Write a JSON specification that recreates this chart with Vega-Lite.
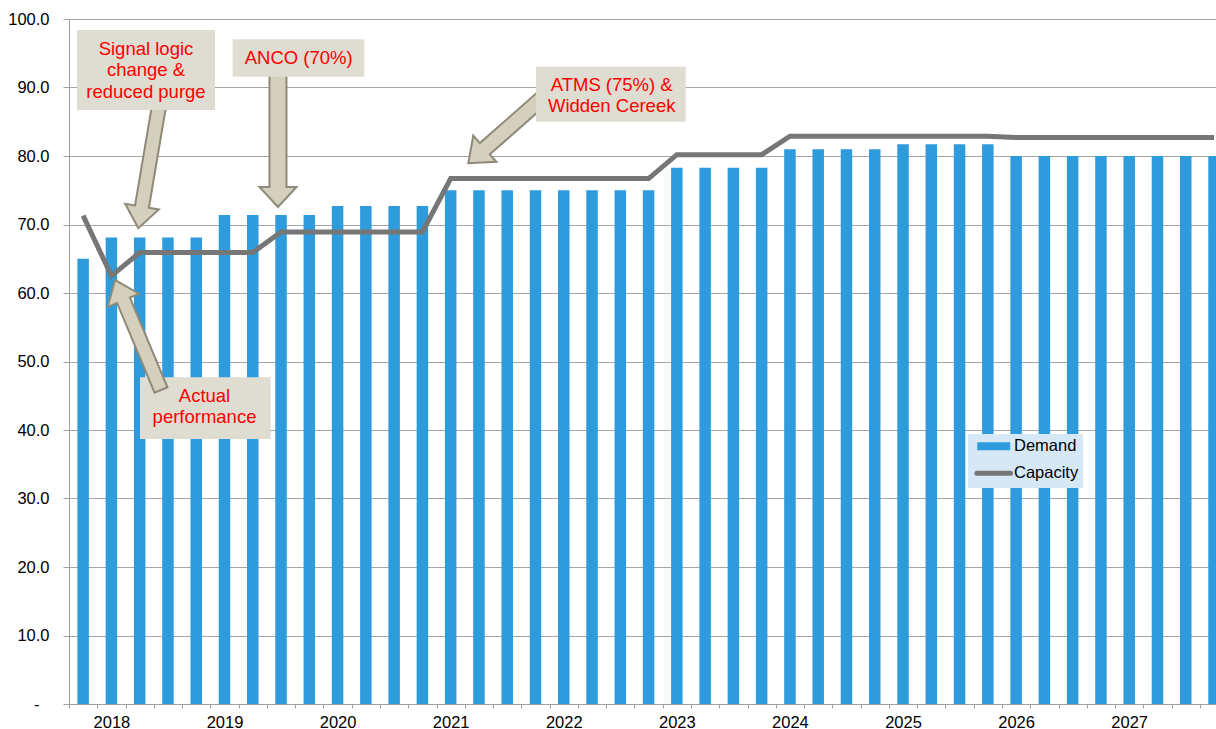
{
  "$schema": "https://vega.github.io/schema/vega-lite/v6.json",
  "width": 1147,
  "height": 685,
  "autosize": {"type": "none"},
  "padding": {"left": 69, "top": 19, "right": 0, "bottom": 25},
  "background": "white",
  "config": {"view": {"stroke": null}, "font": "Liberation Sans"},
  "datasets": {
    "main": [
      {"quarter": "2018 Q1", "i": 0, "demand": 65.0, "capacity": 71.3},
      {"quarter": "2018 Q2", "i": 1, "demand": 68.1, "capacity": 62.5},
      {"quarter": "2018 Q3", "i": 2, "demand": 68.1, "capacity": 65.9},
      {"quarter": "2018 Q4", "i": 3, "demand": 68.1, "capacity": 65.9},
      {"quarter": "2019 Q1", "i": 4, "demand": 68.1, "capacity": 65.9},
      {"quarter": "2019 Q2", "i": 5, "demand": 71.4, "capacity": 65.9},
      {"quarter": "2019 Q3", "i": 6, "demand": 71.4, "capacity": 65.9},
      {"quarter": "2019 Q4", "i": 7, "demand": 71.4, "capacity": 68.9},
      {"quarter": "2020 Q1", "i": 8, "demand": 71.4, "capacity": 68.9},
      {"quarter": "2020 Q2", "i": 9, "demand": 72.7, "capacity": 68.9},
      {"quarter": "2020 Q3", "i": 10, "demand": 72.7, "capacity": 68.9},
      {"quarter": "2020 Q4", "i": 11, "demand": 72.7, "capacity": 68.9},
      {"quarter": "2021 Q1", "i": 12, "demand": 72.7, "capacity": 68.9},
      {"quarter": "2021 Q2", "i": 13, "demand": 75.0, "capacity": 76.7},
      {"quarter": "2021 Q3", "i": 14, "demand": 75.0, "capacity": 76.7},
      {"quarter": "2021 Q4", "i": 15, "demand": 75.0, "capacity": 76.7},
      {"quarter": "2022 Q1", "i": 16, "demand": 75.0, "capacity": 76.7},
      {"quarter": "2022 Q2", "i": 17, "demand": 75.0, "capacity": 76.7},
      {"quarter": "2022 Q3", "i": 18, "demand": 75.0, "capacity": 76.7},
      {"quarter": "2022 Q4", "i": 19, "demand": 75.0, "capacity": 76.7},
      {"quarter": "2023 Q1", "i": 20, "demand": 75.0, "capacity": 76.7},
      {"quarter": "2023 Q2", "i": 21, "demand": 78.3, "capacity": 80.2},
      {"quarter": "2023 Q3", "i": 22, "demand": 78.3, "capacity": 80.2},
      {"quarter": "2023 Q4", "i": 23, "demand": 78.3, "capacity": 80.2},
      {"quarter": "2024 Q1", "i": 24, "demand": 78.3, "capacity": 80.2},
      {"quarter": "2024 Q2", "i": 25, "demand": 81.0, "capacity": 82.9},
      {"quarter": "2024 Q3", "i": 26, "demand": 81.0, "capacity": 82.9},
      {"quarter": "2024 Q4", "i": 27, "demand": 81.0, "capacity": 82.9},
      {"quarter": "2025 Q1", "i": 28, "demand": 81.0, "capacity": 82.9},
      {"quarter": "2025 Q2", "i": 29, "demand": 81.7, "capacity": 82.9},
      {"quarter": "2025 Q3", "i": 30, "demand": 81.7, "capacity": 82.9},
      {"quarter": "2025 Q4", "i": 31, "demand": 81.7, "capacity": 82.9},
      {"quarter": "2026 Q1", "i": 32, "demand": 81.7, "capacity": 82.9},
      {"quarter": "2026 Q2", "i": 33, "demand": 80.0, "capacity": 82.7},
      {"quarter": "2026 Q3", "i": 34, "demand": 80.0, "capacity": 82.7},
      {"quarter": "2026 Q4", "i": 35, "demand": 80.0, "capacity": 82.7},
      {"quarter": "2027 Q1", "i": 36, "demand": 80.0, "capacity": 82.7},
      {"quarter": "2027 Q2", "i": 37, "demand": 80.0, "capacity": 82.7},
      {"quarter": "2027 Q3", "i": 38, "demand": 80.0, "capacity": 82.7},
      {"quarter": "2027 Q4", "i": 39, "demand": 80.0, "capacity": 82.7},
      {"quarter": "2028 Q1", "i": 40, "demand": 80.0, "capacity": 82.7}
    ],
    "boxes": [
      {"i": -0.217, "i2": 4.664, "v": 98.39, "v2": 86.72},
      {"i": 5.29, "i2": 9.945, "v": 97.04, "v2": 91.58},
      {"i": 16.018, "i2": 21.313, "v": 93.04, "v2": 85.01},
      {"i": 2.011, "i2": 6.634, "v": 47.69, "v2": 38.69}
    ],
    "notes": [
      {"i": 2.223, "v": 94.74, "label": ["Signal logic", "change &", "reduced purge"]},
      {"i": 7.624, "v": 93.43, "label": ["ANCO (70%)"]},
      {"i": 18.695, "v": 89.53, "label": ["ATMS (75%) &", "Widden Cereek"]},
      {"i": 4.293, "v": 44.13, "label": ["Actual", "performance"]}
    ]
  },
  "data": {"name": "main"},
  "encoding": {
    "x": {
      "field": "i",
      "type": "quantitative",
      "scale": {"domain": [-0.5, 40.07], "nice": false, "zero": false, "padding": 0},
      "axis": {
        "title": null,
        "values": [-0.5, 0.5, 1.5, 2.5, 3.5, 4.5, 5.5, 6.5, 7.5, 8.5, 9.5, 10.5, 11.5, 12.5, 13.5, 14.5, 15.5, 16.5, 17.5, 18.5, 19.5, 20.5, 21.5, 22.5, 23.5, 24.5, 25.5, 26.5, 27.5, 28.5, 29.5, 30.5, 31.5, 32.5, 33.5, 34.5, 35.5, 36.5, 37.5, 38.5, 39.5, 1, 5, 9, 13, 17, 21, 25, 29, 33, 37],
        "labelExpr": "datum.value % 4 == 1 ? '' + (2018 + (datum.value - 1) / 4) : ''",
        "labelOverlap": false,
        "labelFlush": false,
        "labelBound": false,
        "grid": false,
        "tickSize": 4,
        "tickOpacity": {"condition": {"test": "datum.value % 1 == 0", "value": 0}, "value": 1},
        "tickColor": "#a0a0a0",
        "domainColor": "#a0a0a0",
        "labelFont": "Liberation Sans",
        "labelFontSize": 16.5,
        "labelPadding": 6,
        "labelColor": "#000000"
      }
    }
  },
  "layer": [
    {
      "mark": {"type": "bar", "size": 11.5, "clip": true},
      "encoding": {
        "y": {
          "field": "demand",
          "type": "quantitative",
          "scale": {"domain": [0, 100], "nice": false},
          "axis": {
            "title": null,
            "values": [0, 10, 20, 30, 40, 50, 60, 70, 80, 90, 100],
            "labelExpr": "datum.value == 0 ? '-' : format(datum.value, '.1f')",
            "labelFont": "Liberation Sans",
            "labelFontSize": 16.5,
            "labelColor": "#000000",
            "labelPadding": {"condition": {"test": "datum.value == 0", "value": 24}, "value": 14},
            "tickSize": 6,
            "tickColor": "#a0a0a0",
            "domainColor": "#a0a0a0",
            "grid": true,
            "gridColor": "#a6a6a6"
          }
        },
        "color": {
          "datum": "Demand",
          "type": "nominal",
          "scale": {"domain": ["Demand", "Capacity"], "range": ["#2e9bdc", "#767676"]},
          "legend": {
            "orient": "none",
            "legendX": 899,
            "legendY": 415,
            "title": null,
            "fillColor": "#d6e8f6",
            "padding": 4,
            "rowPadding": 8,
            "labelFont": "Liberation Sans",
            "labelFontSize": 16.5,
            "labelColor": "#000000",
            "symbolSize": 256,
            "symbolOffset": 13.5,
            "labelOffset": 12,
            "encode": {
              "symbols": {
                "update": {
                  "shape": {"signal": "datum.value === 'Demand' ? 'M -2.06 -0.5 L 2.06 -0.5 L 2.06 0.5 L -2.06 0.5 Z' : 'M -2.1 0 L 2.1 0'"},
                  "fill": {"signal": "datum.value === 'Demand' ? '#2e9bdc' : 'transparent'"},
                  "stroke": {"signal": "datum.value === 'Demand' ? 'transparent' : '#767676'"},
                  "strokeWidth": {"signal": "datum.value === 'Demand' ? 0 : 5"},
                  "strokeCap": {"value": "round"},
                  "opacity": {"value": 1}
                }
              }
            }
          }
        }
      }
    },
    {
      "mark": {"type": "line", "strokeWidth": 5, "clip": true},
      "encoding": {
        "y": {"field": "capacity", "type": "quantitative", "scale": {"domain": [0, 100], "nice": false}},
        "color": {"datum": "Capacity", "type": "nominal"}
      }
    },
    {
      "data": {"values": [{"i": 2.335, "v": 78.81}]},
      "mark": {"type": "point", "shape": "M -0.108 -1 L 0.108 -1 L 0.108 0.662 L 0.262 0.662 L 0 1 L -0.262 0.662 L -0.108 0.662 Z", "size": 16900, "angle": 9.6, "filled": true, "fill": "#d4d0bd", "stroke": "#8e8a78", "strokeWidth": 2, "opacity": 1},
      "encoding": {"y": {"field": "v", "type": "quantitative", "scale": {"domain": [0, 100], "nice": false}}}
    },
    {
      "data": {"values": [{"i": 6.892, "v": 82.55}]},
      "mark": {"type": "point", "shape": "M -0.124 -1 L 0.124 -1 L 0.124 0.708 L 0.27 0.708 L 0 1 L -0.27 0.708 L -0.124 0.708 Z", "size": 18769, "angle": 0, "filled": true, "fill": "#d4d0bd", "stroke": "#8e8a78", "strokeWidth": 2, "opacity": 1},
      "encoding": {"y": {"field": "v", "type": "quantitative", "scale": {"domain": [0, 100], "nice": false}}}
    },
    {
      "data": {"values": [{"i": 15.07, "v": 84.2}]},
      "mark": {"type": "point", "shape": "M -0.138 -1 L 0.138 -1 L 0.138 0.596 L 0.321 0.596 L 0 1 L -0.321 0.596 L -0.138 0.596 Z", "size": 11881, "angle": 48.6, "filled": true, "fill": "#d4d0bd", "stroke": "#8e8a78", "strokeWidth": 2, "opacity": 1},
      "encoding": {"y": {"field": "v", "type": "quantitative", "scale": {"domain": [0, 100], "nice": false}}}
    },
    {
      "data": {"name": "boxes"},
      "mark": {"type": "rect", "fill": "#dfdcd1"},
      "encoding": {
        "x2": {"field": "i2"},
        "y": {"field": "v", "type": "quantitative", "scale": {"domain": [0, 100], "nice": false}},
        "y2": {"field": "v2"}
      }
    },
    {
      "data": {"name": "notes"},
      "mark": {"type": "text", "font": "Liberation Sans", "fontSize": 18.5, "color": "#ff0000", "align": "center", "baseline": "alphabetic", "lineHeight": 21.3},
      "encoding": {
        "y": {"field": "v", "type": "quantitative", "scale": {"domain": [0, 100], "nice": false}},
        "text": {"field": "label"}
      }
    },
    {
      "data": {"values": [{"i": 1.941, "v": 53.87}]},
      "mark": {"type": "point", "shape": "M -0.117 -1 L 0.117 -1 L 0.117 0.631 L 0.285 0.631 L 0 1 L -0.285 0.631 L -0.117 0.631 Z", "size": 14209, "angle": 157.3, "filled": true, "fill": "#d4d0bd", "stroke": "#8e8a78", "strokeWidth": 2, "opacity": 1},
      "encoding": {"y": {"field": "v", "type": "quantitative", "scale": {"domain": [0, 100], "nice": false}}}
    }
  ]
}
